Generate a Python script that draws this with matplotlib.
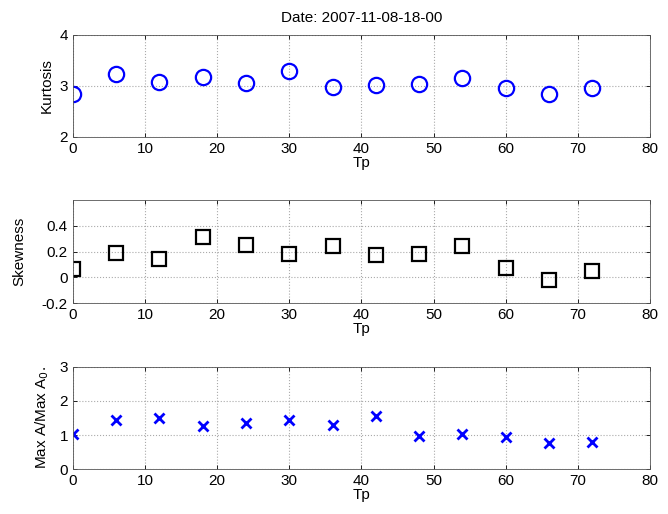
import numpy as np
import matplotlib
matplotlib.use("Agg")
import matplotlib.pyplot as plt

plt.rcParams['font.family'] = ['Liberation Sans', 'DejaVu Sans']

tp = [0, 6, 12, 18, 24, 30, 36, 42, 48, 54, 60, 66, 72]
kurtosis = [2.84, 3.23, 3.08, 3.18, 3.06, 3.30, 2.97, 3.02, 3.04, 3.16, 2.96, 2.84, 2.95]
skewness = [0.065, 0.19, 0.145, 0.31, 0.25, 0.18, 0.24, 0.17, 0.18, 0.24, 0.07, -0.02, 0.045]
max_ratio = [1.02, 1.45, 1.50, 1.28, 1.35, 1.43, 1.29, 1.56, 0.97, 1.04, 0.95, 0.77, 0.81]

fig = plt.figure(figsize=(6.68, 5.14), dpi=100)

left = 0.109
width = 0.864
ax1 = fig.add_axes([left, 0.734, width, 0.198])
ax2 = fig.add_axes([left, 0.4105, width, 0.2004])
ax3 = fig.add_axes([left, 0.087, width, 0.1996])


def style(ax):
    ax.set_xlim(0, 80)
    ax.set_xticks(np.arange(0, 81, 10))
    ax.grid(True, linestyle=':', color='#aaaaaa', linewidth=0.8)
    ax.tick_params(direction='in', labelsize=11, length=3, width=0.6, top=True, right=True)
    for s in ax.spines.values():
        s.set_linewidth(0.6)
        s.set_color('#555555')
    ax.set_xlabel("Tp", fontsize=11, labelpad=0)


ax1.plot(tp, kurtosis, 'o', mfc='none', mec='blue', ms=11, mew=1.6)
ax1.set_ylim(2, 4)
ax1.set_yticks([2, 3, 4])
ax1.set_ylabel("Kurtosis", fontsize=11, labelpad=4)
ax1.set_title("Date: 2007-11-08-18-00", fontsize=11, pad=9)
style(ax1)

ax2.plot(tp, skewness, 's', mfc='none', mec='black', ms=9.5, mew=1.6)
ax2.set_ylim(-0.2, 0.6)
ax2.set_yticks([-0.2, 0, 0.2, 0.4])
ax2.set_yticklabels(["-0.2", "0", "0.2", "0.4"])
ax2.set_ylabel("Skewness", fontsize=11, labelpad=11)
style(ax2)

ax3.plot(tp, max_ratio, 'x', color='blue', ms=7, mew=2)
ax3.set_ylim(0, 3)
ax3.set_yticks([0, 1, 2, 3])
ax3.set_ylabel("Max A/Max A$_0$.", fontsize=11, labelpad=6)
style(ax3)

fig.savefig("out.png", dpi=100)
